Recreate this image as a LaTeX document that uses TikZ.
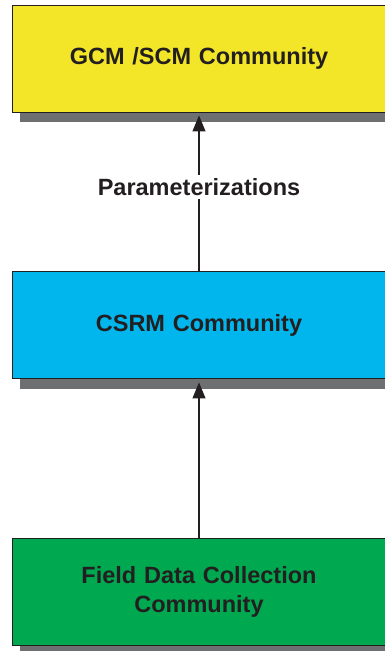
\documentclass[tikz,border=0pt]{standalone}
\usepackage{fontspec}
\setmainfont{Liberation Sans}
\usetikzlibrary{positioning, shadows, arrows.meta}
\definecolor{gcmyellow}{RGB}{243,230,40}
\definecolor{csrmblue}{RGB}{0,182,236}
\definecolor{fieldgreen}{RGB}{0,168,80}
\definecolor{textdark}{RGB}{35,31,32}
\definecolor{shadowgray}{RGB}{110,111,113}

\begin{document}
\begin{tikzpicture}[x=1pt, y=1pt, node distance=266.5pt, on grid,
  comm/.style={draw=textdark, line width=0.9pt, fill=#1,
    minimum width=374pt, minimum height=107pt, text width=330pt,
    align=center, text=textdark,
    font=\fontsize{23.5}{29}\selectfont\bfseries,
    drop shadow={shadow xshift=8pt, shadow yshift=-10pt,
      fill=shadowgray, opacity=1}},
  flow/.style={-{Triangle[length=16pt,width=13pt]}, line width=1.1pt, draw=textdark}]
  \useasboundingbox (0,0) rectangle (385,-651);
  \node[comm=gcmyellow] (gcm) at (199,-58.5) {GCM /SCM Community};
  \node[comm=csrmblue] (csrm) [below=of gcm] {CSRM Community};
  \node[comm=fieldgreen] (field) [below=of csrm] {Field Data Collection\\Community};
  % upward links
  \draw[flow] (csrm.north) -- node[pos=0.54, fill=white, text=textdark,
      font=\fontsize{23.5}{29}\selectfont\bfseries] (param) {Parameterizations}
    ([yshift=-3pt]gcm.south);
  \draw[flow] (field.north) -- ([yshift=-3.5pt]csrm.south);
\end{tikzpicture}
\end{document}
